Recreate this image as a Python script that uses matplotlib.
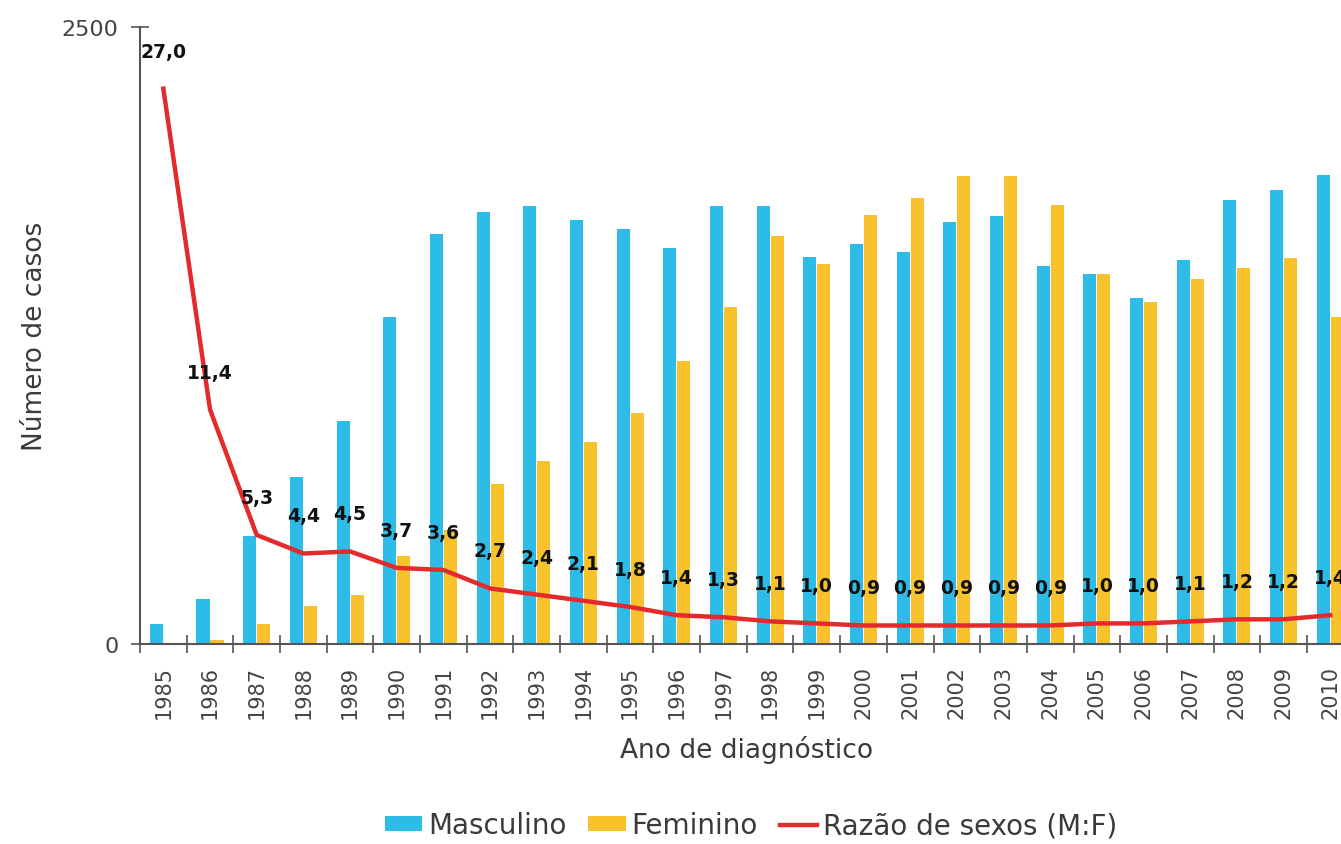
import matplotlib
matplotlib.use("Agg")
import matplotlib.pyplot as plt
import numpy as np

# casos de aids por sexo e ano de diagnóstico
anos = [str(a) for a in range(1985, 2011)]
masculino = [81, 182, 438, 677, 904, 1325, 1661, 1750, 1775, 1718, 1682, 1605, 1775,
             1775, 1568, 1621, 1589, 1710, 1734, 1532, 1499, 1402, 1556, 1799, 1840, 1901]
feminino = [3, 16, 83, 154, 200, 358, 461, 648, 740, 818, 934, 1146, 1365,
            1653, 1540, 1738, 1807, 1896, 1896, 1779, 1499, 1386, 1479, 1523, 1564, 1325]
razao = [27.0, 11.4, 5.3, 4.4, 4.5, 3.7, 3.6, 2.7, 2.4, 2.1, 1.8, 1.4, 1.3,
         1.1, 1.0, 0.9, 0.9, 0.9, 0.9, 0.9, 1.0, 1.0, 1.1, 1.2, 1.2, 1.4]

cor_m = "#2DBBE8"
cor_f = "#F8C22C"
cor_r = "#E42A2D"
cinza = "#555555"

plt.rcParams["font.family"] = ["DejaVu Sans"]

fig = plt.figure(figsize=(13.41, 8.45), dpi=100)
ax = fig.add_axes([0.1044, 0.2367, 0.905, 0.7302])

x = np.arange(len(anos))
larg = 0.28
ax.bar(x - 0.15, masculino, width=larg, color=cor_m, label="Masculino", zorder=2)
ax.bar(x + 0.15, feminino, width=larg, color=cor_f, label="Feminino", zorder=2)

ax.set_xlim(-0.5, len(anos) - 0.5)
ax.set_ylim(0, 2500)
ax.set_yticks([0, 2500])
ax.set_yticklabels(["0", "2500"], fontsize=16, color="#444444")

# marcas nos limites entre os anos, rótulos no centro
ax.set_xticks(np.arange(len(anos) + 1) - 0.5)
ax.set_xticklabels([])
ax.set_xticks(x, minor=True)
ax.set_xticklabels(anos, minor=True, rotation=90, fontsize=15, color="#444444")
ax.tick_params(axis="x", which="major", direction="inout", length=13, width=1.2, color=cinza)
ax.tick_params(axis="x", which="minor", length=0, pad=15)
ax.tick_params(axis="y", direction="inout", length=13, width=1.2, color=cinza, pad=9)

for s in ["top", "right"]:
    ax.spines[s].set_visible(False)
for s in ["left", "bottom"]:
    ax.spines[s].set_color(cinza)
    ax.spines[s].set_linewidth(1.5)

ax.set_xlabel("Ano de diagnóstico", fontsize=19, color="#3a3a3a", labelpad=12)
ax.set_ylabel("Número de casos", fontsize=19, color="#3a3a3a", labelpad=10)

# razão de sexos no eixo secundário (oculto)
ax2 = ax.twinx()
ax2.set_ylim(0, 30)
ax2.axis("off")
ax2.plot(x, razao, color=cor_r, lw=3.2, label="Razão de sexos (M:F)", zorder=3)
for xi, r in zip(x, razao):
    ax2.annotate(f"{r:.1f}".replace(".", ","), (xi, r), xytext=(0, 27),
                 textcoords="offset points", ha="center", va="center",
                 fontsize=13.5, fontweight="bold", color="#111111")

h1, l1 = ax.get_legend_handles_labels()
h2, l2 = ax2.get_legend_handles_labels()
fig.legend(h1 + h2, l1 + l2, loc="center", bbox_to_anchor=(0.56, 0.022), ncol=3,
           frameon=False, fontsize=20, handlelength=1.35, handleheight=0.5,
           handletextpad=0.2, columnspacing=0.8, labelcolor="#3a3a3a")

fig.savefig("out.png", dpi=100)
